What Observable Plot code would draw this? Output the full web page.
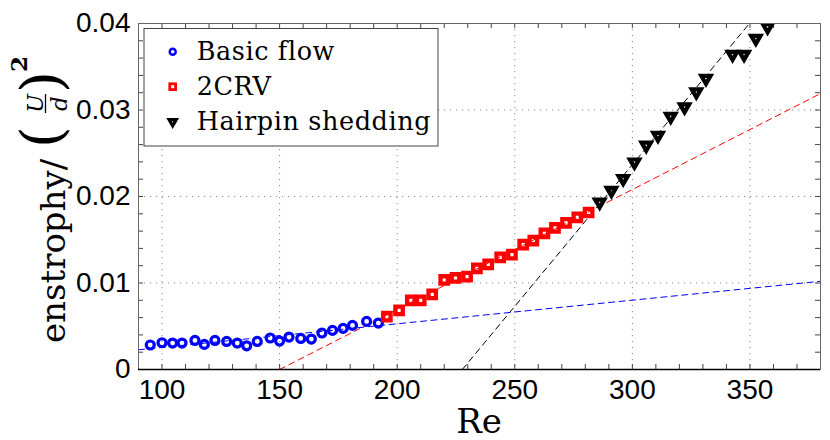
<!DOCTYPE html>
<html><head><meta charset="utf-8">
<script src="https://cdn.jsdelivr.net/npm/d3@7"></script>
<script src="https://cdn.jsdelivr.net/npm/@observablehq/plot@0.6"></script>
<style>html,body{margin:0;padding:0;background:#fff;} #chart svg{display:block;}</style>
</head><body><div id="chart"></div>
<script>
// ---- data ----
const basicRe  = [95, 100, 104.5, 108.5, 114, 118, 122.5, 127.5, 132, 136, 140.5, 146, 150, 154, 159, 163.5, 168, 172.5, 177, 181, 187, 192];
const basicVal = [0.00283, 0.00309, 0.00306, 0.00306, 0.00336, 0.00290, 0.00336, 0.00324, 0.00306, 0.00274, 0.00324, 0.00364, 0.00329, 0.00375, 0.00359, 0.00352, 0.00422, 0.00452, 0.00475, 0.00510, 0.00556, 0.00537];
const crvRe  = [195.6, 200.8, 205.8, 210, 214.9, 220, 224.8, 229.7, 233.9, 238.7, 243.8, 248.8, 253.6, 257.9, 262.6, 267.1, 271.8, 276.6, 281.4];
const crvVal = [0.00610, 0.00683, 0.00799, 0.00799, 0.00869, 0.01035, 0.01058, 0.01074, 0.01170, 0.01216, 0.01297, 0.01328, 0.01444, 0.01491, 0.01575, 0.01638, 0.01695, 0.01760, 0.01815];
const hairRe  = [286.1, 291.1, 296.1, 300.9, 305.9, 310.9, 316.3, 322.2, 327.2, 331.3, 342.6, 347.5, 352.5, 357.5];
const hairVal = [0.01934, 0.02069, 0.02205, 0.02397, 0.02591, 0.02706, 0.02926, 0.03034, 0.03208, 0.03363, 0.03641, 0.03641, 0.03826, 0.03961];
// linear fits (end points)
const fitBasicRe = [90, 380],    fitBasicVal = [0.00228, 0.0102];
const fitCrvRe   = [150, 380],   fitCrvVal   = [0, 0.0319];
const fitHairRe  = [227.7, 380], fitHairVal  = [0, 0.0499];
// ticks
const xTicks = [100, 150, 200, 250, 300, 350];
const yTicks = [0, 0.01, 0.02, 0.03, 0.04];
const xMinor = [100,110,120,130,140,150,160,170,180,190,200,210,220,230,240,250,260,270,280,290,300,310,320,330,340,350,360,370];
const yMinor = [0.002,0.004,0.006,0.008,0.01,0.012,0.014,0.016,0.018,0.02,0.022,0.024,0.026,0.028,0.03,0.032,0.034,0.036,0.038];
const seriesNames = ["Basic flow", "2CRV", "Hairpin shedding"];
const xLabel = "Re";

// ---- layout ----
const W = 830, H = 440, mL = 138, mR = 10, mT = 23, mB = 71;
const pw = W - mL - mR, ph = H - mT - mB;
const pts = (xs, ys) => xs.map((x, i) => ({x, y: ys[i]}));
const triDown = {draw(ctx, size) {
  const a = Math.sqrt(size / Math.PI), h = a * Math.sqrt(3);
  ctx.moveTo(-a, -h / 3); ctx.lineTo(a, -h / 3); ctx.lineTo(0, 2 * h / 3); ctx.closePath();
}};
const gridStyle = {stroke: "#8a8a8a", strokeOpacity: 1, strokeWidth: 1, strokeDasharray: "1.2,4.8"};
const tickStyle = {stroke: "#444", strokeOpacity: 1, strokeWidth: 1};
const dash = "6,4.5";

const plot = Plot.plot({
  width: W, height: H, marginLeft: mL, marginRight: mR, marginTop: mT, marginBottom: mB,
  style: {fontFamily: "'Liberation Sans', Arial, sans-serif", fontSize: "28px", background: "white", color: "black"},
  x: {domain: [90, 380], label: null},
  y: {domain: [0, 0.04], label: null},
  marks: [
    Plot.ruleX(xTicks, gridStyle),
    Plot.ruleY(yTicks.filter(d => d > 0 && d < 0.04), gridStyle),
    Plot.ruleX(xMinor, {...tickStyle, insetTop: ph - 5}),
    Plot.ruleX(xMinor, {...tickStyle, insetBottom: ph - 5}),
    Plot.ruleY(yMinor, {...tickStyle, insetRight: pw - 5}),
    Plot.ruleY(yMinor, {...tickStyle, insetLeft: pw - 5}),
    Plot.line(pts(fitBasicRe, fitBasicVal), {x: "x", y: "y", stroke: "#0000ff", strokeWidth: 1, strokeDasharray: dash, clip: true}),
    Plot.line(pts(fitCrvRe, fitCrvVal), {x: "x", y: "y", stroke: "#ff0000", strokeWidth: 1, strokeDasharray: dash, clip: true}),
    Plot.line(pts(fitHairRe, fitHairVal), {x: "x", y: "y", stroke: "#000", strokeWidth: 1, strokeDasharray: dash, clip: true}),
    Plot.dot(pts(basicRe, basicVal), {x: "x", y: "y", r: 4, stroke: "#0000ff", strokeWidth: 3.2, fill: "none", clip: true}),
    Plot.dot(pts(crvRe, crvVal), {x: "x", y: "y", symbol: "square", r: 4.2, stroke: "#ff0000", strokeWidth: 4.3, fill: "none", clip: true}),
    Plot.dot(pts(hairRe, hairVal), {x: "x", y: "y", symbol: triDown, r: 4.6, stroke: "#000", strokeWidth: 4.2, strokeLinejoin: "miter", fill: "none", clip: true}),
    Plot.frame({stroke: "#666", strokeWidth: 1}),
    Plot.ruleY([0], {stroke: "#000", strokeWidth: 1.3}),
    Plot.axisX({ticks: xTicks, tickSize: 0, tickPadding: 10, label: null, tickFormat: d => String(d), fontSize: 28}),
    Plot.axisY({ticks: yTicks, tickSize: 0, tickPadding: 8, label: null, tickFormat: d => d === 0 ? "0" : d3.format(".2f")(d), fontSize: 28})
  ]
});
document.getElementById("chart").appendChild(plot);

// ---- annotations: legend, axis labels ----
const svg = d3.select(plot);
const serif = "'DejaVu Serif', 'Liberation Serif', serif";

// x label
svg.append("text").attr("x", mL + pw / 2).attr("y", 433).attr("text-anchor", "middle")
  .attr("font-family", serif).attr("font-size", 34).attr("fill", "#000").text(xLabel);

// y label: enstrophy/ (U/d)^2, rotated
const yl = svg.append("g").attr("transform", "translate(65,343) rotate(-90)")
  .attr("font-family", serif).attr("fill", "#000").attr("text-anchor", "start");
yl.append("text").attr("x", 0).attr("y", 0).attr("font-size", 34).text("enstrophy/");
yl.append("text").attr("x", 195).attr("y", -4).attr("font-size", 56).text("(");
yl.append("text").attr("x", 239.5).attr("y", -22).attr("text-anchor", "middle").attr("font-size", 22).attr("font-style", "italic").text("U");
yl.append("line").attr("x1", 230).attr("x2", 249).attr("y1", -19.5).attr("y2", -19.5).attr("stroke", "#000").attr("stroke-width", 1.3);
yl.append("text").attr("x", 239.5).attr("y", 2).attr("text-anchor", "middle").attr("font-size", 23).attr("font-style", "italic").text("d");
yl.append("text").attr("x", 250).attr("y", -4).attr("font-size", 56).text(")");
yl.append("text").attr("x", 271).attr("y", -38).attr("font-size", 23).attr("font-weight", "bold").text("2");

// legend
const lg = svg.append("g").attr("text-anchor", "start");
lg.append("rect").attr("x", 144).attr("y", 28.5).attr("width", 294).attr("height", 117.5)
  .attr("fill", "#fff").attr("stroke", "#444").attr("stroke-width", 1);
const mx = 172.7, rows = [51.7, 86.7, 121.7];
lg.append("circle").attr("cx", mx).attr("cy", rows[0]).attr("r", 3).attr("fill", "none").attr("stroke", "#0000ff").attr("stroke-width", 2.5);
lg.append("rect").attr("x", mx - 2.9).attr("y", rows[1] - 2.9).attr("width", 5.8).attr("height", 5.8).attr("fill", "none").attr("stroke", "#ff0000").attr("stroke-width", 2.8);
lg.append("path").attr("d", d3.symbol(triDown, Math.PI * 3.6 * 3.6)()).attr("transform", `translate(${mx},${rows[2]})`)
  .attr("fill", "none").attr("stroke", "#000").attr("stroke-width", 3.2);
seriesNames.forEach((name, i) => {
  lg.append("text").attr("x", 196.7).attr("y", rows[i] + 8.5).attr("font-family", serif).attr("font-size", 25.5)
    .attr("letter-spacing", 0.6).attr("fill", "#000").text(name);
});
</script>
</body></html>
